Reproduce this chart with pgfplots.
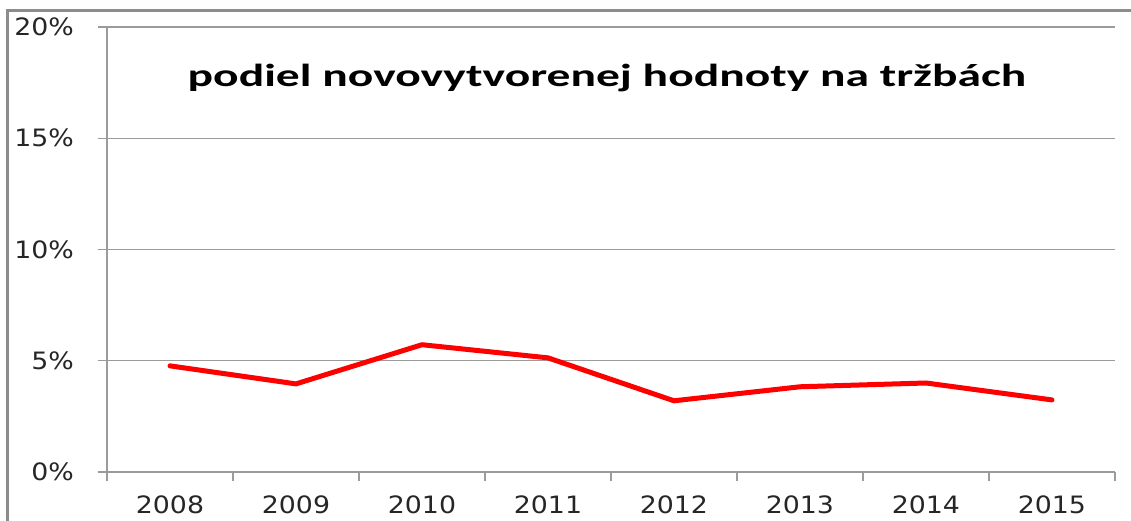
\documentclass[border=0pt]{standalone}
\usepackage{fontspec}
\setmainfont{DejaVu Sans}
\newfontfamily\titlefont{Carlito}
\usepackage{pgfplots}
\pgfplotsset{compat=1.18}
\definecolor{gridgray}{RGB}{155,155,155}
\definecolor{framegray}{RGB}{140,140,140}
\begin{document}
\begin{tikzpicture}[x=1bp,y=1bp]
\path[use as bounding box] (-107,-49) rectangle (1024,472);
\clip (-107,-49) rectangle (1024,472);
\draw[framegray, line width=3bp] (-99,-60) -- (-99,461) -- (1040,461);
\begin{axis}[
    at={(0,0)}, anchor=south west,
    width=1008bp, height=445bp, scale only axis,
    xmin=-0.5, xmax=7.5,
    ymin=0, ymax=20,
    xtick={-0.5,0.5,...,7.5},
    x tick label as interval,
    xticklabels={2008,2009,2010,2011,2012,2013,2014,2015},
    ytick={0,5,10,15,20},
    yticklabel={\pgfmathprintnumber{\tick}\%},
    axis x line*=bottom, axis y line*=left,
    axis line style={gridgray, line width=1.2bp, -},
    ymajorgrids=true,
    grid style={gridgray, line width=1.2bp},
    tick align=outside,
    major tick length=9bp,
    tick style={gridgray, line width=1.2bp},
    ticklabel style={font=\fontsize{24}{28}\selectfont, text=black!85, xscale=1.12},
    xticklabel style={yshift=-11bp},
    yticklabel style={xshift=-18bp},
    /pgf/number format/assume math mode=true,
    clip=false,
]
% podiel novovytvorenej hodnoty na trzbach
\addplot[color=red, line width=5bp, line join=round, line cap=round]
    coordinates {
    (0,4.77)(1,3.96)(2,5.72)(3,5.13)(4,3.20)(5,3.83)(6,4.00)(7,3.24)
    };
\node[anchor=base, xscale=1.49, font=\titlefont\bfseries\fontsize{32}{38}\selectfont]
    at (rel axis cs:0.496,0.867) {podiel novovytvorenej hodnoty na tržbách};
\end{axis}
\end{tikzpicture}
\end{document}
